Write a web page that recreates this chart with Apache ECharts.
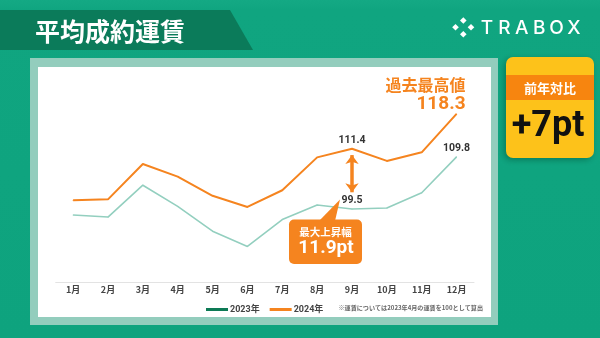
<!DOCTYPE html>
<html>
<head>
<meta charset="utf-8">
<script src="https://cdn.jsdelivr.net/npm/echarts@6/dist/echarts.min.js"></script>
<style>
  html, body { margin: 0; padding: 0; background: #0fa47f; }
  #chart { width: 600px; height: 338px; }
</style>
</head>
<body>
<div id="chart"></div>
<script>
// Monthly average contracted freight index (Apr 2023 = 100)
const months = ['1月', '2月', '3月', '4月', '5月', '6月', '7月', '8月', '9月', '10月', '11月', '12月'];
const fare2023 = [98.3, 97.9, 104.2, 100.0, 95.1, 92.1, 97.4, 100.3, 99.5, 99.7, 102.7, 109.8];
const fare2024 = [101.2, 101.4, 108.4, 105.9, 102.1, 99.9, 103.2, 109.7, 111.4, 109.0, 110.7, 118.3];
const seriesNames = ['2023年', '2024年'];

const titleText = '平均成約運賃';
const brandText = 'TRABOX';
const yoyTitle = '前年対比';
const yoyText = '+7pt';
const recordTitle = '過去最高値';
const riseTitle = '最大上昇幅';
const noteText = '※運賃については2023年4月の運賃を100として算出';

const ORANGE = '#f5841f';
const TEAL = '#93cfbf';
const JP = '"Noto Sans CJK JP", "Noto Sans", sans-serif';
const NUM = 'Roboto, "Noto Sans CJK JP", sans-serif';

// month with the largest year-over-year gap, and the record month of 2024
let riseIdx = 0;
fare2024.forEach((v, i) => { if (v - fare2023[i] > fare2024[riseIdx] - fare2023[riseIdx]) riseIdx = i; });
const riseText = (fare2024[riseIdx] - fare2023[riseIdx]).toFixed(1) + 'pt';
let peakIdx = 0;
fare2024.forEach((v, i) => { if (v > fare2024[peakIdx]) peakIdx = i; });

const valueLabel = {
  show: true, position: 'top', distance: 3,
  fontFamily: NUM, fontSize: 10.5, fontWeight: 'bold', color: '#333'
};

const data2023 = fare2023.map((v, i) => {
  const item = { value: v };
  if (i === riseIdx || i === fare2023.length - 1) item.label = Object.assign({}, valueLabel);
  return item;
});

const data2024 = fare2024.map((v, i) => {
  const item = { value: v };
  if (i === riseIdx) item.label = Object.assign({}, valueLabel);
  if (i === peakIdx) {
    item.label = {
      show: true, position: 'top', distance: 5, offset: [9, 6], align: 'right',
      formatter: '{a|' + recordTitle + '}\n{b|' + v.toFixed(1) + '}',
      rich: {
        a: { fontFamily: JP, fontSize: 16, fontWeight: 'bold', color: ORANGE, lineHeight: 18, align: 'right' },
        b: { fontFamily: NUM, fontSize: 19, fontWeight: 'bold', color: ORANGE, lineHeight: 20, align: 'right' }
      }
    };
  }
  return item;
});

const chart = echarts.init(document.getElementById('chart'), null, { renderer: 'canvas' });

// brand mark: four small diamonds
const diamond = (cx, cy, r) => ({
  type: 'polygon', z: 1,
  shape: { points: [[cx, cy - r], [cx + r, cy], [cx, cy + r], [cx - r, cy]] },
  style: { fill: '#fff' }
});

const brandLetters = brandText.split('').map((ch, i) => ({
  type: 'text', z: 1, x: 487 + i * 17.4, y: 28,
  style: { text: ch, fill: '#fff', font: '500 19px Inter, "Noto Sans", sans-serif', textAlign: 'center', textVerticalAlign: 'middle' }
}));

chart.setOption({
  animation: false,
  textStyle: { fontFamily: JP },
  grid: { left: 55.7, right: 126, top: 80, bottom: 55.7 },
  xAxis: {
    type: 'category',
    data: months,
    boundaryGap: true,
    axisLine: { lineStyle: { color: '#e3e3e3', width: 1 } },
    axisTick: { show: false },
    axisLabel: { margin: 3, fontSize: 9, fontWeight: 'bold', color: '#444', fontFamily: JP }
  },
  yAxis: {
    type: 'value', min: 85, max: 125,
    show: false,
    splitLine: { show: false }
  },
  legend: {
    left: 201, top: 300,
    icon: 'rect', itemWidth: 22, itemHeight: 3, itemGap: 10,
    textStyle: { fontSize: 9, fontWeight: 'bold', color: '#444', fontFamily: NUM, padding: [0, 0, 0, -3] },
    data: [
      { name: seriesNames[0], itemStyle: { color: '#0d7a55' } },
      { name: seriesNames[1], itemStyle: { color: ORANGE } }
    ]
  },
  series: [
    {
      name: seriesNames[0], type: 'line', data: data2023,
      symbol: 'circle', symbolSize: 1, showSymbol: true,
      itemStyle: { color: TEAL },
      lineStyle: { color: TEAL, width: 1.6 },
      label: { show: false },
      z: 3
    },
    {
      name: seriesNames[1], type: 'line', data: data2024,
      symbol: 'circle', symbolSize: 1, showSymbol: true,
      itemStyle: { color: ORANGE },
      lineStyle: { color: ORANGE, width: 2 },
      label: { show: false },
      z: 4,
      markLine: {
        silent: true,
        symbol: ['arrow', 'arrow'],
        symbolSize: [10, 9],
        label: { show: false },
        lineStyle: { color: ORANGE, width: 3.5, type: 'solid' },
        data: [[
          { coord: [riseIdx, fare2024[riseIdx] - 1.25] },
          { coord: [riseIdx, fare2023[riseIdx] + 3.3] }
        ]]
      }
    }
  ],
  graphic: [
    // header band with slanted end
    { type: 'rect', z: 0, shape: { x: 0, y: 0, width: 600, height: 338 },
      style: { fill: new echarts.graphic.LinearGradient(0, 0, 0, 1, [
        { offset: 0, color: '#14a984' }, { offset: 0.03, color: '#10a580' }, { offset: 1, color: '#0ea37e' }]) } },
    { type: 'polygon', z: 0, shape: { points: [[0, 10], [230, 10], [253, 50], [0, 50]] }, style: { fill: '#0b7b5a' } },
    { type: 'text', z: 1, x: 35, y: 31,
      style: { text: titleText, fill: '#fff', font: 'bold 25px ' + JP, textAlign: 'left', textVerticalAlign: 'middle' } },

    // brand
    diamond(455.5, 27.3, 3.3), diamond(463.3, 20.5, 3.3), diamond(471, 27.3, 3.3), diamond(463.3, 34.3, 3.3),
    ...brandLetters,

    // chart panel
    { type: 'rect', z: 0, shape: { x: 30, y: 58, width: 468, height: 267 }, style: { fill: '#93cdbd' } },
    { type: 'rect', z: 0, shape: { x: 38, y: 67, width: 453, height: 250 }, style: { fill: '#ffffff' } },
    { type: 'text', z: 1, x: 483, y: 308,
      style: { text: noteText, fill: '#666', font: 'bold 6.1px ' + JP, textAlign: 'right', textVerticalAlign: 'middle' } },

    // largest-rise callout
    { type: 'polygon', z: 10, shape: { points: [[319, 221], [335, 221], [340, 199.5]] }, style: { fill: ORANGE } },
    { type: 'rect', z: 10, shape: { x: 289, y: 219.5, width: 73, height: 44.5, r: 5 }, style: { fill: ORANGE } },
    { type: 'text', z: 11, x: 325.5, y: 232,
      style: { text: riseTitle, fill: '#fff', font: 'bold 10.5px ' + JP, textAlign: 'center', textVerticalAlign: 'middle' } },
    { type: 'text', z: 11, x: 326, y: 248,
      style: { text: riseText, fill: '#fff', font: 'bold 19px ' + NUM, textAlign: 'center', textVerticalAlign: 'middle' } },

    // year-over-year badge
    { type: 'rect', z: 10, shape: { x: 506, y: 57, width: 88, height: 101, r: 7 },
      style: { fill: '#fdc21a', shadowBlur: 6, shadowColor: 'rgba(0,70,45,0.45)', shadowOffsetX: -2, shadowOffsetY: 2 } },
    { type: 'rect', z: 11, shape: { x: 506, y: 75, width: 88, height: 25 }, style: { fill: '#f7850f' } },
    { type: 'text', z: 12, x: 550, y: 88,
      style: { text: yoyTitle, fill: '#fff', font: 'bold 13px ' + JP, textAlign: 'center', textVerticalAlign: 'middle' } },
    { type: 'text', z: 12, x: 548, y: 127,
      style: { text: yoyText, fill: '#111', font: 'bold 36px ' + NUM, textAlign: 'center', textVerticalAlign: 'middle' } }
  ]
});
</script>
</body>
</html>
